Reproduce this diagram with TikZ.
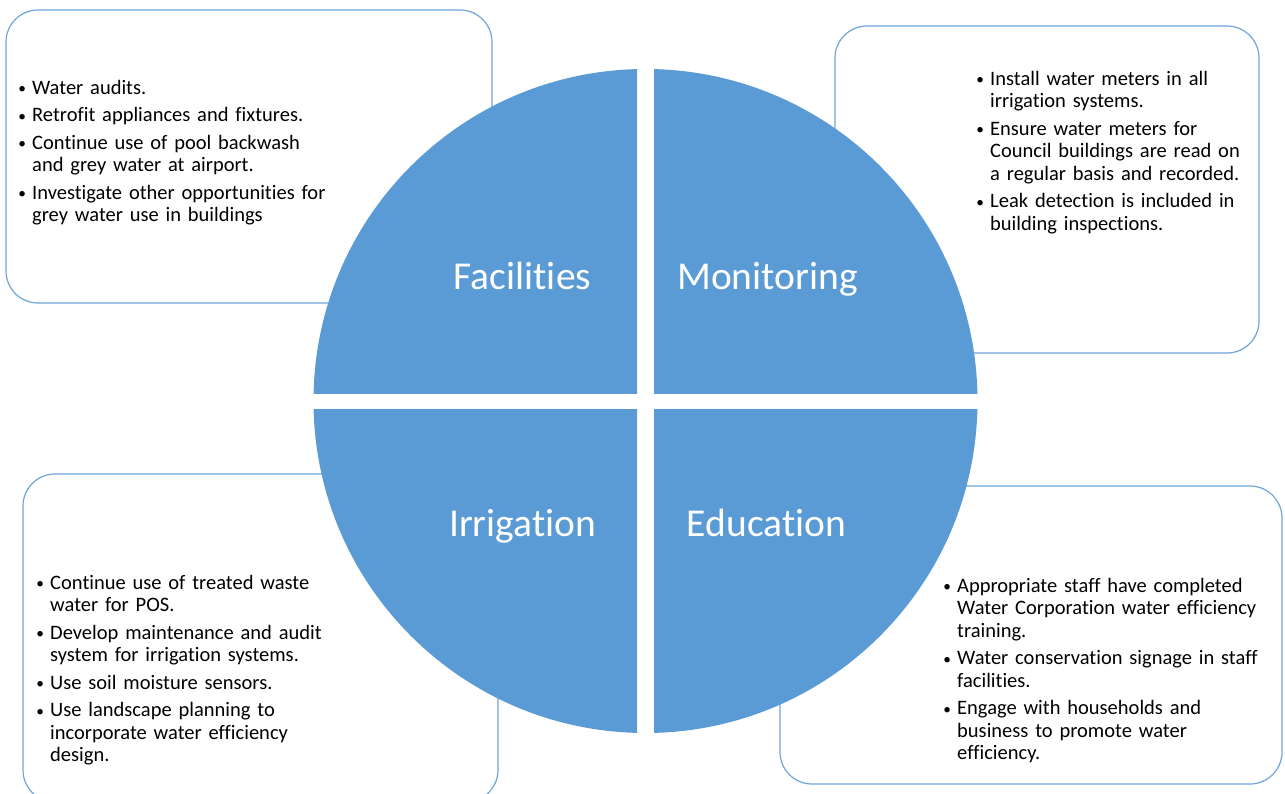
\documentclass[tikz,border=0pt]{standalone}
\usepackage{fontspec}
\setmainfont{Carlito}[Ligatures=NoCommon]
\usepackage{tikz}
\usetikzlibrary{positioning}

\definecolor{wedgeblue}{HTML}{5B9BD5}
\definecolor{frameblue}{HTML}{6FA5DA}

% one bullet point with hanging indent
\newcommand{\bul}[1]{\noindent\hangindent=13pt\hangafter=1%
    \makebox[13pt][l]{\makebox[6pt][c]{\raisebox{0.5pt}{\scalebox{0.75}{\textbullet}}}}#1\par}

\begin{document}
\begin{tikzpicture}[x=1pt, y=-1pt,
    panel/.style={draw=frameblue, line width=1.2pt, fill=white, rounded corners=32pt},
    wedge/.style={fill=wedgeblue},
    title/.style={anchor=base, text=white, font=\fontsize{39.5}{46}\selectfont},
    notes/.style={anchor=north west, inner sep=0pt, text width=380pt,
        font=\fontsize{20.5}{22.5}\selectfont\raggedright\setlength{\parskip}{5pt}}]
    \useasboundingbox (0,0) rectangle (1285,794);

    % Frames behind the disc
    \draw[panel] (6,10) rectangle (492,303);
    \draw[panel] (835,26) rectangle (1259,353);
    \draw[panel] (23,474) rectangle (498,802);
    \draw[panel] (780,486) rectangle (1282,784);

    % Disc cut into four wedges
    \begin{scope}
        \clip (637,393) rectangle (300,50);
        \fill[wedge] (645.5,401) circle[radius=332pt];
    \end{scope}
    \begin{scope}
        \clip (654,393) rectangle (990,50);
        \fill[wedge] (645.5,401) circle[radius=332pt];
    \end{scope}
    \begin{scope}
        \clip (637,409) rectangle (300,750);
        \fill[wedge] (645.5,401) circle[radius=332pt];
    \end{scope}
    \begin{scope}
        \clip (654,409) rectangle (990,750);
        \fill[wedge] (645.5,401) circle[radius=332pt];
    \end{scope}

    % Wedge titles
    \node[title] (fac) at (522.5,290) {Facilities};
    \node[title] (mon) at (767.5,290) {Monitoring};
    \node[title] (irr) at (522.5,536) {Irrigation};
    \node[title] (edu) at (766.5,536) {Education};

    % Action lists
    \node[notes] (facnotes) at (19,80) {%
        \bul{Water audits.}
        \bul{Retrofit appliances and fixtures.}
        \bul{Continue use of pool backwash\newline and grey water at airport.}
        \bul{Investigate other opportunities for\newline grey water use in buildings}};
    \node[notes] (monnotes) at (977,71) {%
        \bul{Install water meters in all\newline irrigation systems.}
        \bul{Ensure water meters for\newline Council buildings are read on\newline a regular basis and recorded.}
        \bul{Leak detection is included in\newline building inspections.}};
    \node[notes] (irrnotes) at (37,575) {%
        \bul{Continue use of treated waste\newline water for POS.}
        \bul{Develop maintenance and audit\newline system for irrigation systems.}
        \bul{Use soil moisture sensors.}
        \bul{Use landscape planning to\newline incorporate water efficiency\newline design.}};
    \node[notes] (edunotes) at (944,578) {%
        \bul{Appropriate staff have completed\newline Water Corporation water efficiency\newline training.}
        \bul{Water conservation signage in staff\newline facilities.}
        \bul{Engage with households and\newline business to promote water\newline efficiency.}};
\end{tikzpicture}
\end{document}
